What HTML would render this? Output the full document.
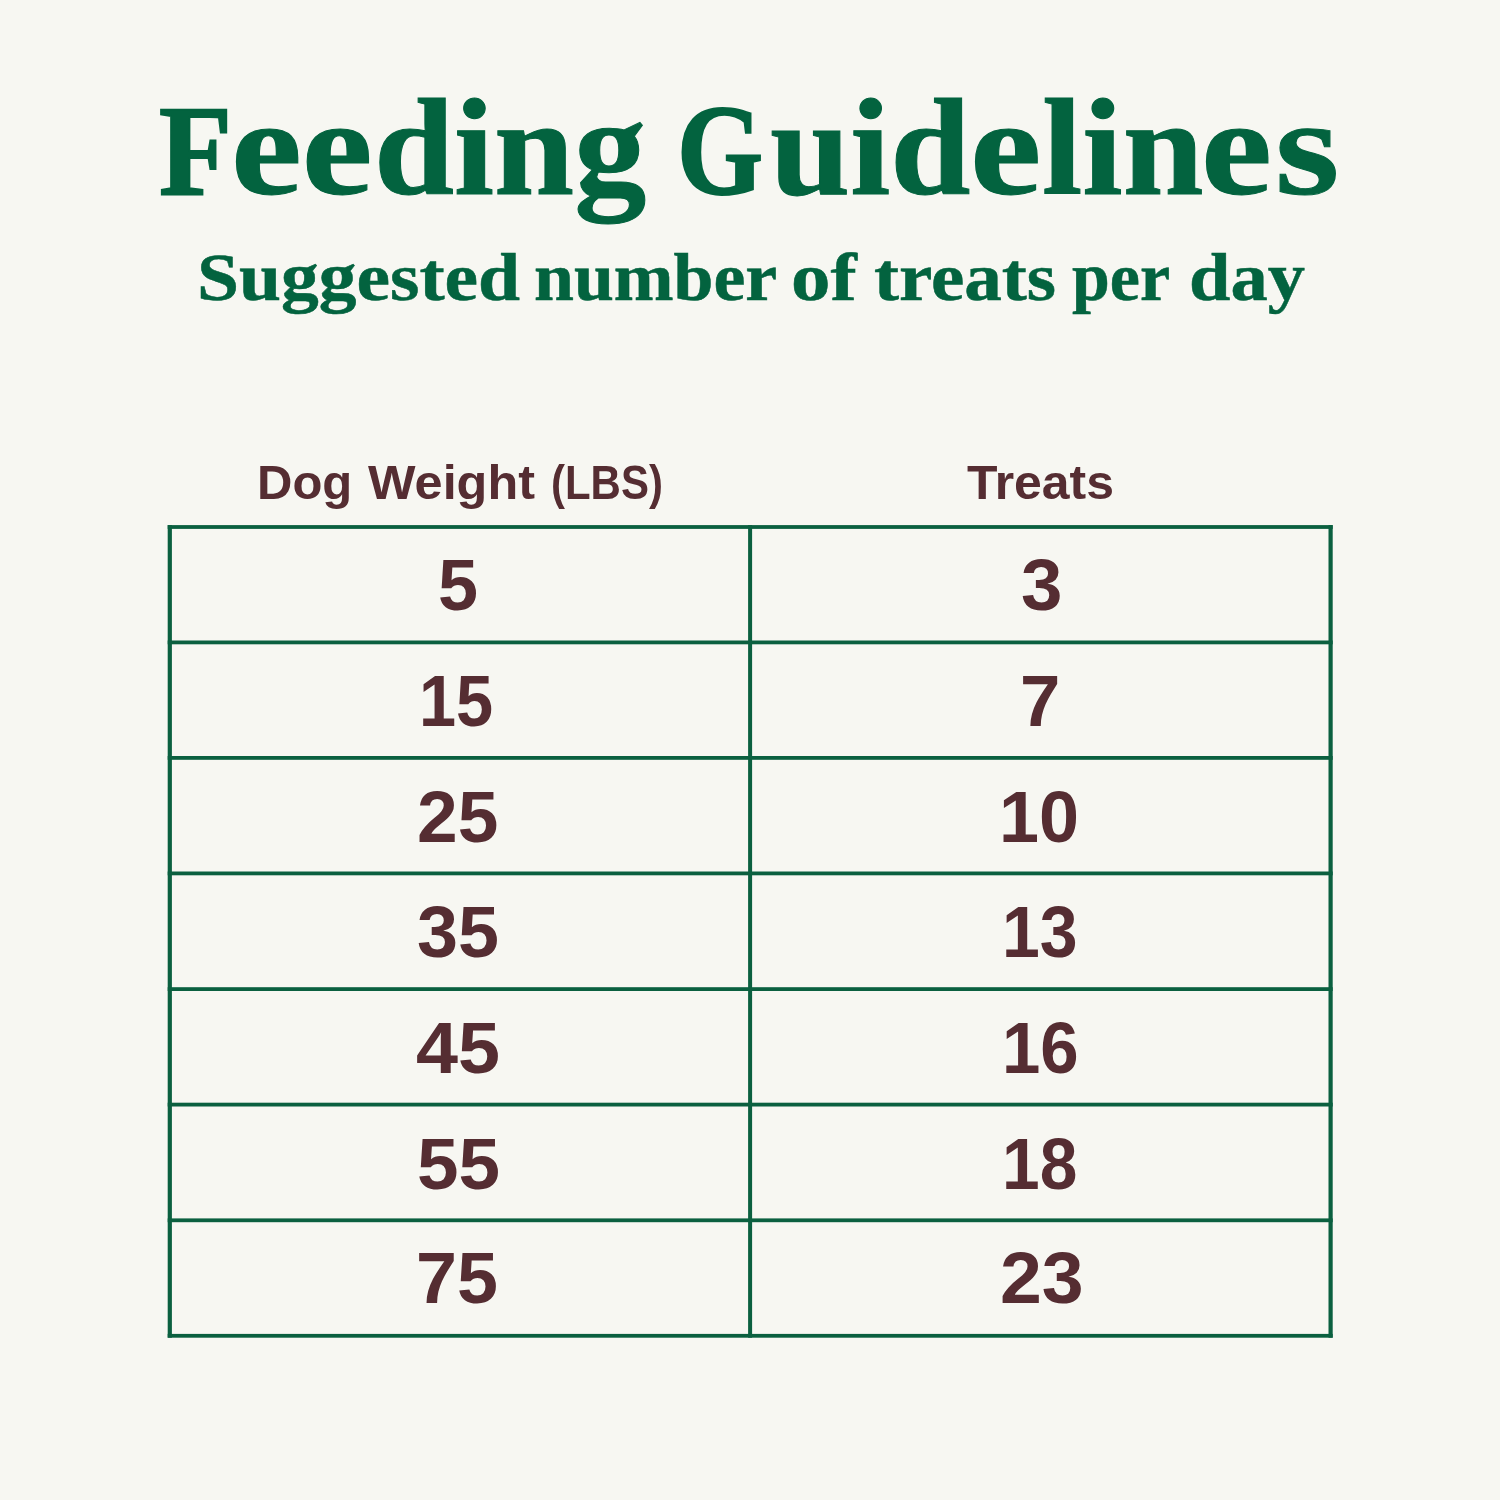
<!DOCTYPE html>
<html lang="en">
<head>
<meta charset="utf-8">
<title>Feeding Guidelines - Suggested number of treats per day</title>
<style>
  html, body { margin: 0; padding: 0; }
  body { width: 1500px; height: 1500px; background: #f7f7f2; position: relative; overflow: hidden; }
  .abs { position: absolute; white-space: nowrap; line-height: 1; margin: 0; }
  .row { left: 0; width: 1500px; text-align: left; font-size: 0; }
  .row span { display: inline-block; width: 0; position: relative; transform-origin: 0 50%; white-space: pre; }
  .serif { font-family: "Liberation Serif", serif; font-weight: 700; color: #03633f; -webkit-text-stroke-color: #03633f; }
  .sans { font-family: "Liberation Sans", sans-serif; font-weight: 700; color: #552d32; }
  #title { top: 80px; height: 137px; }
  #sub { top: 244px; height: 68px; }
  .hdr { top: 459px; height: 48px; }
  .num { font-size: 72.5px; transform-origin: 0 0; }
  svg { position: absolute; left: 0; top: 0; }
</style>
</head>
<body>
<h1 class="abs row serif" id="title" aria-label="Feeding Guidelines"><span style="left:159.1px;font-size:130px;-webkit-text-stroke-width:2.0px;transform:scaleX(0.9189)">F</span><span style="left:231.3px;font-size:137px;-webkit-text-stroke-width:1.0px;transform:scaleX(1.1652)">ee</span><span style="left:373.7px;font-size:137px;-webkit-text-stroke-width:1.0px;transform:scaleX(1.0512)">ding</span><span style="font-size:137px;"> </span><span style="left:676.7px;font-size:130px;-webkit-text-stroke-width:2.0px;transform:scaleX(0.8511)">G</span><span style="left:769.9px;font-size:137px;-webkit-text-stroke-width:1.0px;transform:scaleX(1.0529)">uid</span><span style="left:970.3px;font-size:137px;-webkit-text-stroke-width:1.0px;transform:scaleX(1.1741)">e</span><span style="left:1041.5px;font-size:137px;-webkit-text-stroke-width:1.0px;transform:scaleX(1.0604)">lin</span><span style="left:1201.3px;font-size:137px;-webkit-text-stroke-width:1.0px;transform:scaleX(1.1667)">e</span><span style="left:1275.4px;font-size:137px;-webkit-text-stroke-width:1.0px;transform:scaleX(1.2083)">s</span></h1>
<h2 class="abs row serif" id="sub" aria-label="Suggested number of treats per day"><span style="left:196.6px;font-size:67.5px;-webkit-text-stroke-width:0.5px;transform:scaleX(1.1189)">Suggested</span><span style="font-size:67.5px;"> </span><span style="left:533.6px;font-size:67.5px;-webkit-text-stroke-width:0.5px;transform:scaleX(1.0630)">number</span><span style="font-size:67.5px;"> </span><span style="left:791.0px;font-size:67.5px;-webkit-text-stroke-width:0.5px;transform:scaleX(1.1679)">of</span><span style="font-size:67.5px;"> </span><span style="left:873.5px;font-size:67.5px;-webkit-text-stroke-width:0.5px;transform:scaleX(1.1123)">treats</span><span style="font-size:67.5px;"> </span><span style="left:1072.4px;font-size:67.5px;-webkit-text-stroke-width:0.5px;transform:scaleX(1.0062)">per</span><span style="font-size:67.5px;"> </span><span style="left:1188.6px;font-size:67.5px;-webkit-text-stroke-width:0.5px;transform:scaleX(1.1029)">day</span></h2>
<div class="abs row sans hdr" aria-label="Dog Weight (LBS)"><span style="left:256.5px;font-size:48px;transform:scaleX(1.0207)">Dog</span><span style="font-size:48px;"> </span><span style="left:367.6px;font-size:48px;transform:scaleX(1.0491)">Weight</span><span style="font-size:48px;"> </span><span style="left:551.1px;font-size:48px;transform:scaleX(0.8742)">(LBS)</span></div>
<div class="abs row sans hdr" aria-label="Treats"><span style="left:967.0px;font-size:48px;transform:scaleX(1.0386)">Treats</span></div>
<svg width="1500" height="1500" viewBox="0 0 1500 1500">
  <g fill="#0b6040">
    <rect x="167.7" y="525.1" width="4.2" height="812.6"/>
    <rect x="748.1" y="525.1" width="4.0" height="812.6"/>
    <rect x="1328.5" y="525.1" width="4.2" height="812.6"/>
    <rect x="167.7" y="525.1" width="1165" height="3.8"/>
    <rect x="167.7" y="640.5" width="1165" height="3.8"/>
    <rect x="167.7" y="756.0" width="1165" height="3.8"/>
    <rect x="167.7" y="871.5" width="1165" height="3.8"/>
    <rect x="167.7" y="987.2" width="1165" height="3.8"/>
    <rect x="167.7" y="1102.7" width="1165" height="3.8"/>
    <rect x="167.7" y="1218.4" width="1165" height="3.8"/>
    <rect x="167.7" y="1333.9" width="1165" height="3.8"/>
  </g>
</svg>
<div class="abs sans num" style="left:437.6px;top:548.7px;transform:scaleX(0.9919)">5</div>
<div class="abs sans num" style="left:1021.0px;top:549.3px;transform:scaleX(1.0270)">3</div>
<div class="abs sans num" style="left:419.0px;top:664.7px;transform:scaleX(0.9200)">15</div>
<div class="abs sans num" style="left:1020.0px;top:665.0px;transform:scaleX(1.0000)">7</div>
<div class="abs sans num" style="left:416.7px;top:781.0px;transform:scaleX(1.0078)">25</div>
<div class="abs sans num" style="left:999.3px;top:781.0px;transform:scaleX(0.9919)">10</div>
<div class="abs sans num" style="left:417.0px;top:896.3px;transform:scaleX(1.0167)">35</div>
<div class="abs sans num" style="left:1001.5px;top:896.3px;transform:scaleX(0.9378)">13</div>
<div class="abs sans num" style="left:415.7px;top:1012.0px;transform:scaleX(1.0423)">45</div>
<div class="abs sans num" style="left:1001.5px;top:1012.2px;transform:scaleX(0.9514)">16</div>
<div class="abs sans num" style="left:416.6px;top:1127.5px;transform:scaleX(1.0299)">55</div>
<div class="abs sans num" style="left:1001.6px;top:1127.5px;transform:scaleX(0.9333)">18</div>
<div class="abs sans num" style="left:415.8px;top:1242.0px;transform:scaleX(1.0158)">75</div>
<div class="abs sans num" style="left:999.5px;top:1242.0px;transform:scaleX(1.0368)">23</div>
</body>
</html>
